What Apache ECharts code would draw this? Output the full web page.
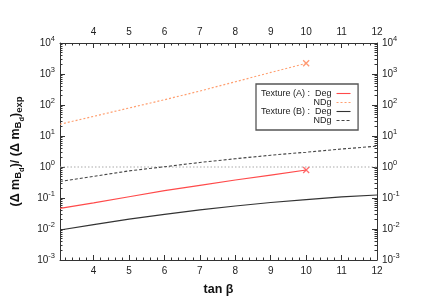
<!DOCTYPE html>
<html><head><meta charset="utf-8">
<script src="https://cdn.jsdelivr.net/npm/echarts@6/dist/echarts.min.js"></script>
<style>html,body{margin:0;padding:0;background:#fff}#c{width:432px;height:303px}</style>
</head><body><div id="c"></div>
<script>
// ---- data ----
const tanBeta = [3.05, 4, 5, 6, 7, 8, 9, 10, 11, 12];
const texADeg = [0.046, 0.070, 0.110, 0.172, 0.257, 0.38, 0.55, 0.80];   // ends at tanβ = 10
const texANDg = [24, 43, 80, 148, 282, 562, 1122, 2210];                // ends at tanβ = 10
const texBDeg = [0.0093, 0.0139, 0.0207, 0.0298, 0.0413, 0.0553, 0.0716, 0.089, 0.108, 0.125];
const texBNDg = [0.34, 0.50, 0.75, 1.02, 1.4, 1.85, 2.4, 3.0, 3.8, 4.7];
const expRatio = [1, 1];
const xTickLabels = [4, 5, 6, 7, 8, 9, 10, 11, 12];
const yTickLabels = [0.001, 0.01, 0.1, 1, 10, 100, 1000, 10000];
const legendNames = {aDeg: 'Texture (A) :  Deg', aNDg: 'NDg', bDeg: 'Texture (B) :  Deg', bNDg: 'NDg'};

const xMin = tanBeta[0], xMax = tanBeta[tanBeta.length - 1];
const pairs = (ys) => ys.map((y, i) => [tanBeta[i], y]);
const xMinor = []; for (let v = 3.2; v < 12.001; v += 0.2) xMinor.push(+v.toFixed(1));
const yMinor = []; for (let e = -3; e < 4; e++) for (let m = 2; m <= 9; m++) yMinor.push(+(m * Math.pow(10, e)).toPrecision(3));

const font = 'Liberation Sans, Arial, sans-serif';
const axisLineStyle = {color: '#333', width: 1};
const supFmt = v => '10{s|' + Math.round(Math.log10(v)) + '}';
const supRich = {s: {fontSize: 7.5, fontFamily: font, color: '#222', padding: [0, 0, 8, 0]}};

const cRed = '#ff4a4a', cOrange = '#ff9f70', cDark = '#333333';

function xAx(pos, major) {
  return {
    type: 'value', position: pos, min: xMin, max: xMax, gridIndex: 0,
    axisLine: {show: major, lineStyle: axisLineStyle},
    axisTick: {show: true, inside: true, length: major ? 5 : 2.5, lineStyle: axisLineStyle,
               customValues: major ? xTickLabels : xMinor},
    axisLabel: {show: major, customValues: xTickLabels, fontSize: 10, fontFamily: font, color: '#222', margin: 6},
    splitLine: {show: false},
    name: (major && pos === 'bottom') ? 'tan β' : '',
    nameLocation: 'middle', nameGap: 23,
    nameTextStyle: {fontSize: 12.5, fontWeight: 'bold', fontFamily: font, color: '#111'}
  };
}
function yAx(pos, major) {
  return {
    type: 'log', logBase: 10, position: pos, min: 0.001, max: 10000,
    axisLine: {show: major, lineStyle: axisLineStyle},
    axisTick: {show: true, inside: true, length: major ? 5 : 2.5, lineStyle: axisLineStyle,
               customValues: major ? yTickLabels : yMinor},
    axisLabel: {show: major, customValues: yTickLabels, formatter: supFmt, rich: supRich,
                fontSize: 10, fontFamily: font, color: '#222', margin: 5},
    splitLine: {show: false},
    name: (major && pos === 'left') ? '(Δ m{b|B}{d|d})/ (Δ m{b|B}{d|d}){e|exp}' : '',
    nameLocation: 'middle', nameRotate: 90, nameGap: 33,
    nameTextStyle: {fontSize: 12.5, fontWeight: 'bold', fontFamily: font, color: '#111',
      rich: {
        b: {fontSize: 9.5, fontWeight: 'bold', fontFamily: font, color: '#111', padding: [6, 0, 0, 0]},
        d: {fontSize: 7.5, fontWeight: 'bold', fontFamily: font, color: '#111', padding: [13, 0, 0, 0]},
        e: {fontSize: 9.5, fontWeight: 'bold', fontFamily: font, color: '#111', padding: [7, 0, 0, 0]}
      }}
  };
}

const xMark = 'path://M0,0L10,10M10,0L0,10';
const option = {
  animation: false,
  backgroundColor: '#fff',
  grid: {left: 60, right: 55, top: 43, bottom: 43},
  xAxis: [xAx('bottom', true), xAx('top', true), xAx('bottom', false), xAx('top', false)],
  yAxis: [yAx('left', true), yAx('right', true), yAx('left', false), yAx('right', false)],
  legend: {
    orient: 'vertical', left: 256, top: 84, align: 'right',
    padding: [5, 7, 5, 5], itemGap: 0, itemWidth: 14, itemHeight: 8,
    borderColor: '#555', borderWidth: 1.3, backgroundColor: '#fff',
    itemStyle: {opacity: 0},
    lineStyle: {width: 1.1, color: 'inherit', type: 'inherit', opacity: 'inherit'},
    data: ['aDeg', 'aNDg', 'bDeg', 'bNDg'],
    formatter: n => '{t|' + legendNames[n] + '}',
    textStyle: {fontFamily: font, fontSize: 9, color: '#222',
      rich: {t: {width: 68, align: 'right', fontSize: 9, fontFamily: font, color: '#222', lineHeight: 11.6}}}
  },
  series: [
    {name: 'ref', type: 'line', data: [[xMin, expRatio[0]], [xMax, expRatio[1]]], symbol: 'none', silent: true,
     lineStyle: {color: '#aaa', width: 1.2, type: [1.5, 2]}, z: 1},
    {name: 'aDeg', type: 'line', data: pairs(texADeg), symbol: 'none', itemStyle: {color: cRed},
     lineStyle: {color: cRed, width: 1.2}},
    {name: 'aNDg', type: 'line', data: pairs(texANDg), symbol: 'none', itemStyle: {color: cOrange},
     lineStyle: {color: cOrange, width: 1.2, type: [2, 2]}},
    {name: 'bDeg', type: 'line', data: pairs(texBDeg), symbol: 'none', itemStyle: {color: cDark},
     lineStyle: {color: cDark, width: 1.2}},
    {name: 'bNDg', type: 'line', data: pairs(texBNDg), symbol: 'none', itemStyle: {color: cDark},
     lineStyle: {color: '#444', width: 1.1, type: [3, 2]}},
    {name: 'aDegEnd', type: 'scatter', data: [pairs(texADeg)[texADeg.length - 1]], symbol: xMark, symbolSize: 6,
     itemStyle: {color: 'none', borderColor: cRed, borderWidth: 1.3}},
    {name: 'aNDgEnd', type: 'scatter', data: [pairs(texANDg)[texANDg.length - 1]], symbol: xMark, symbolSize: 6,
     itemStyle: {color: 'none', borderColor: '#ff7f50', borderWidth: 1.3}}
  ]
};
const chart = echarts.init(document.getElementById('c'), null, {renderer: 'canvas'});
chart.setOption(option);
</script></body></html>
